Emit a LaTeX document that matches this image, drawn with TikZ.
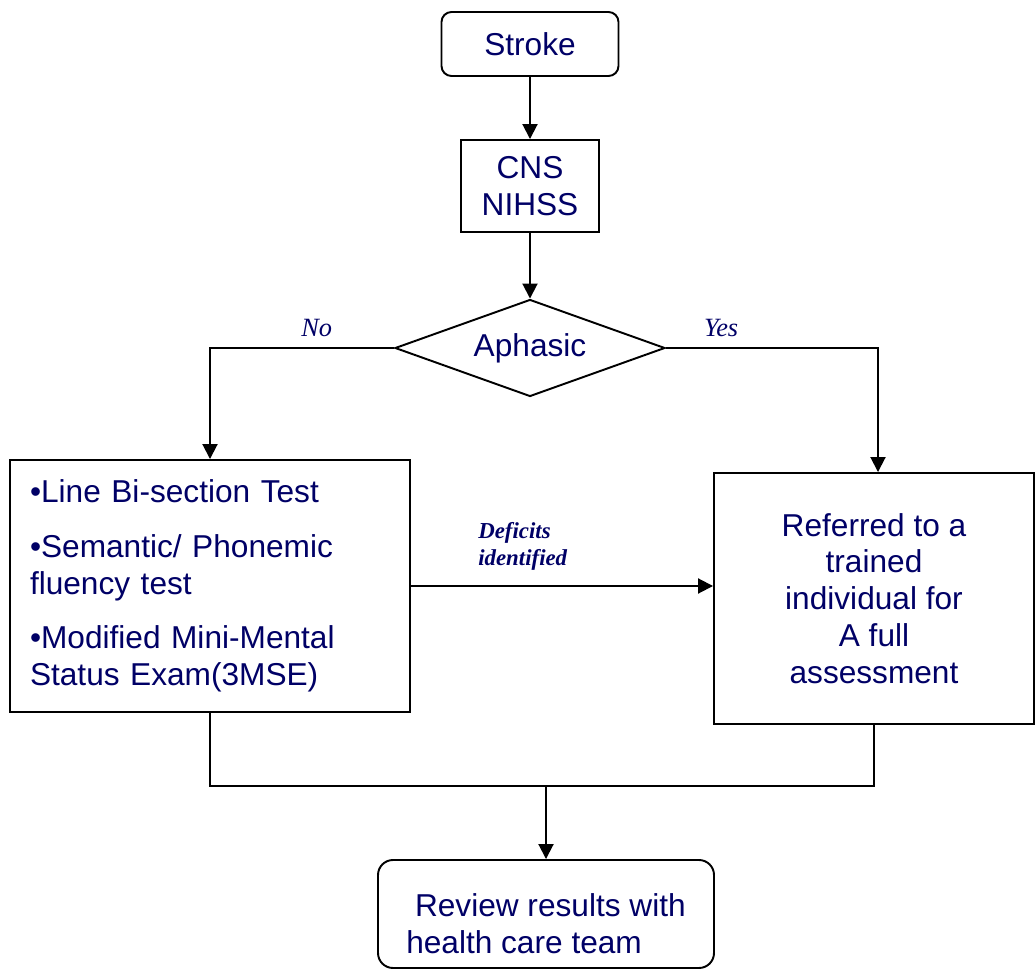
\documentclass[tikz,border=0pt]{standalone}
\usepackage{fontspec}
\setmainfont{Liberation Sans}
\newfontfamily\lblfont{Liberation Serif}
\definecolor{navy}{RGB}{0,0,102}
\usepackage{tikz}
\usetikzlibrary{arrows.meta, positioning, shapes.geometric}

\begin{document}
\begin{tikzpicture}[-, node distance=1.cm, line width=1.1pt, inner sep=0pt,
    every node/.style={text=navy, font=\fontsize{18}{21}\selectfont},
    box/.style={draw=black, rectangle, align=center},
    arrow/.style={-{Triangle[length=0.3cm, width=0.3cm]}},
    lbl/.style={font=\lblfont\itshape\fontsize{15}{17}\selectfont}]
  \useasboundingbox (0,0) rectangle (20.72,-19.38);
  \node[box, rounded corners=0.2cm, minimum width=3.54cm, minimum height=1.28cm] (Stroke) at (10.6,-0.88) {Stroke};
  \node[box, minimum width=2.76cm, minimum height=1.84cm] (CNS) [below of=Stroke, node distance=2.84cm] {CNS\\NIHSS};
  \node[draw=black, diamond, aspect=2.78, minimum width=5.4cm, minimum height=1.94cm] (Aphasic) [below of=CNS, node distance=3.24cm] {Aphasic};
  \node[box, align=left, text width=7.2cm, minimum width=8cm, minimum height=5.04cm] (Tests) [left of=Aphasic, node distance=6.4cm, yshift=-4.76cm]
    {\textbullet Line Bi-section Test\\[10pt]\textbullet Semantic/ Phonemic\\fluency test\\[10pt]\textbullet Modified Mini-Mental\\Status Exam(3MSE)};
  \node[box, minimum width=6.4cm, minimum height=5.02cm] (Referred) [right of=Aphasic, node distance=6.88cm, yshift=-5.01cm]
    {Referred to a\\trained\\individual for\\A full\\assessment};
  \node[box, align=left, rounded corners=0.3cm, minimum width=6.72cm, minimum height=2.16cm] (Review) [below of=Aphasic, node distance=11.32cm, xshift=0.32cm]
    {\rule{0pt}{24pt}\ Review results with\\health care team};
  \coordinate[above of=Review, node distance=2.56cm] (join);
  \path (Stroke) edge [arrow] (CNS)
        (CNS) edge [arrow] (Aphasic)
        (join) edge [arrow] (Review)
        ;
  \draw[arrow] (Aphasic.west) -| node[lbl, above=6pt, pos=0.21] {No} (Tests.north);
  \draw[arrow] (Aphasic.east) -| node[lbl, above=6pt, pos=0.13] {Yes} ([xshift=0.08cm]Referred.north);
  \draw[arrow] (Tests.east) -- node[lbl, font=\lblfont\bfseries\itshape\fontsize{13}{15}\selectfont, align=left, above=0.3cm, pos=0.37] {Deficits\\identified} (Tests.east -| Referred.west);
  \draw (Tests.south) |- (join) -| (Referred.south);
\end{tikzpicture}
\end{document}
